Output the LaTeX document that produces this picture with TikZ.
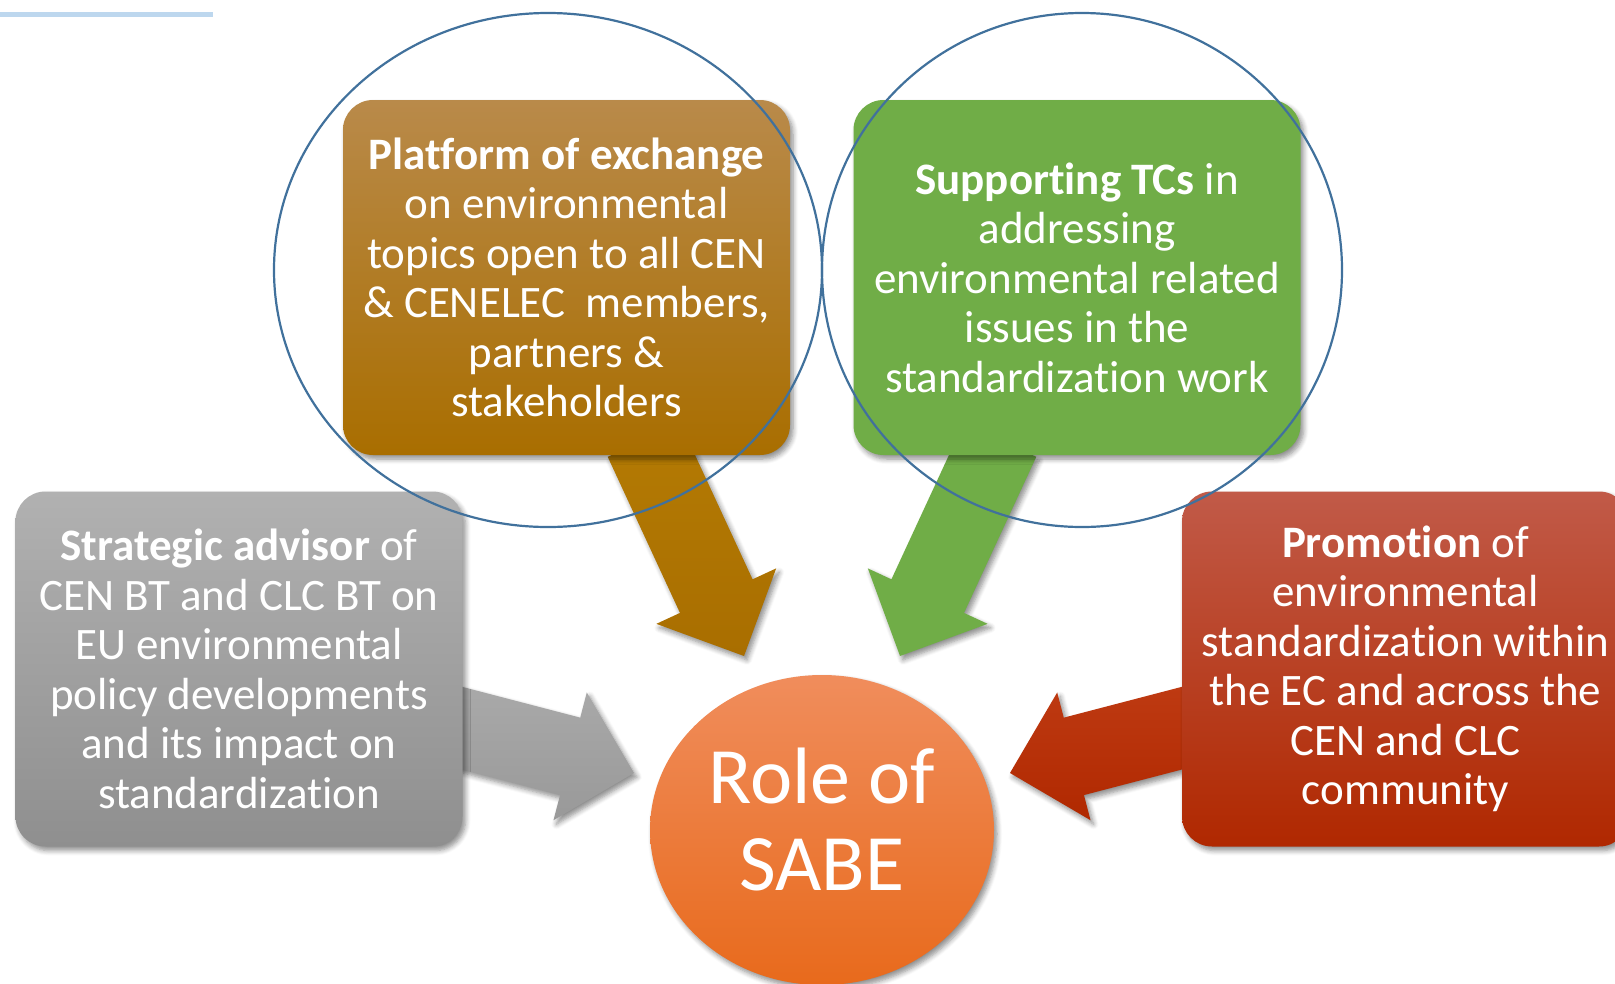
\documentclass[tikz,border=0pt]{standalone}
\usepackage{fontspec}
\setmainfont{Carlito}[Ligatures={NoCommon}]
\usetikzlibrary{calc,shapes.geometric,shadows.blur}
\definecolor{ringblue}{HTML}{41719C}
\definecolor{rulecol}{HTML}{BDD7EE}
\definecolor{brownA}{HTML}{B98A4A}
\definecolor{brownB}{HTML}{A96E00}
\definecolor{brownC}{HTML}{B47B04}
\definecolor{greenA}{HTML}{70AD47}
\definecolor{greyA}{HTML}{B1B1B1}
\definecolor{greyB}{HTML}{8F8F8F}
\definecolor{greyC}{HTML}{A9A9A9}
\definecolor{greyD}{HTML}{999999}
\definecolor{redA}{HTML}{C15A48}
\definecolor{redB}{HTML}{B02800}
\definecolor{redC}{HTML}{BE3A12}
\definecolor{orangeA}{HTML}{F08D5C}
\definecolor{orangeB}{HTML}{E86A1C}
\newcommand{\blockarrow}[3]{%
  \coordinate (#2h) at ($(#3)!66pt!(#2)$);
  \path[#1] ($(#2)!40pt!90:(#3)$) -- ($(#2h)!40pt!90:(#3)$) -- ($(#2h)!66pt!90:(#3)$) -- (#3)
    -- ($(#2h)!66pt!-90:(#3)$) -- ($(#2h)!40pt!-90:(#3)$) -- ($(#2)!40pt!-90:(#3)$) -- cycle;}
\begin{document}
\begin{tikzpicture}[x=1pt,y=-1pt]
\tikzstyle{every node}=[inner sep=0pt,text=white]
\tikzstyle{soft}=[blur shadow={shadow xshift=3pt,shadow yshift=-4pt,shadow blur radius=5pt,shadow blur steps=6,shadow opacity=45}]
\tikzstyle{box}=[soft,rectangle,rounded corners=30pt,minimum width=447pt,minimum height=355pt,align=center,font=\fontsize{45}{49.5}\selectfont]
\tikzstyle{ring}=[ellipse,draw=ringblue,line width=2.2pt]
\useasboundingbox (0,0) rectangle (1615,983);
\clip (0,0) rectangle (1615,983);
\fill[rulecol] (0,11.5) rectangle (213,16.5);
\coordinate (ga) at (450,725);
\coordinate (gt) at (634,773);
\coordinate (ra) at (1194,725);
\coordinate (rt) at (1010,773);
\coordinate (ba) at (644,440);
\coordinate (bt) at (744,656);
\coordinate (sa) at (1000,440);
\coordinate (st) at (900,656);
\blockarrow{soft,top color=greyC,bottom color=greyD}{ga}{gt}
\blockarrow{soft,top color=redC,bottom color=redB}{ra}{rt}
\blockarrow{soft,top color=brownC,bottom color=brownB}{ba}{bt}
\blockarrow{soft,fill=greenA}{sa}{st}
\node[box,top color=brownA,bottom color=brownB](platform) at (566.5,277.5) {\textbf{Platform of exchange}\\on environmental\\topics open to all CEN\\\&~CENELEC\ \ members,\\partners \&\\stakeholders};
\node[box,fill=greenA](support) at (1077,277.5) {\textbf{Supporting TCs} in\\addressing\\environmental related\\issues in the\\standardization work};
\node[box,top color=greyA,bottom color=greyB](advisor) at (239,669) {\textbf{Strategic advisor} of\\CEN BT and CLC BT on\\EU environmental\\policy developments\\and its impact on\\standardization};
\node[box,top color=redA,bottom color=redB](promo) at (1405.5,669) {\textbf{Promotion} of\\environmental\\standardization within\\the EC and across the\\CEN and CLC\\community};
\node[soft,ellipse,minimum width=344pt,minimum height=310pt,top color=orangeA,bottom color=orangeB](sabe) at (822,830) {};
\node[align=center,font=\fontsize{80}{87}\selectfont](sabetxt) at ($(sabe.center)+(0,-11)$) {Role of\\SABE};
\node[ring,minimum width=548pt,minimum height=514pt](ringL) at (548,270) {};
\node[ring,minimum width=520pt,minimum height=514pt](ringR) at (1082,270) {};
\end{tikzpicture}
\end{document}
